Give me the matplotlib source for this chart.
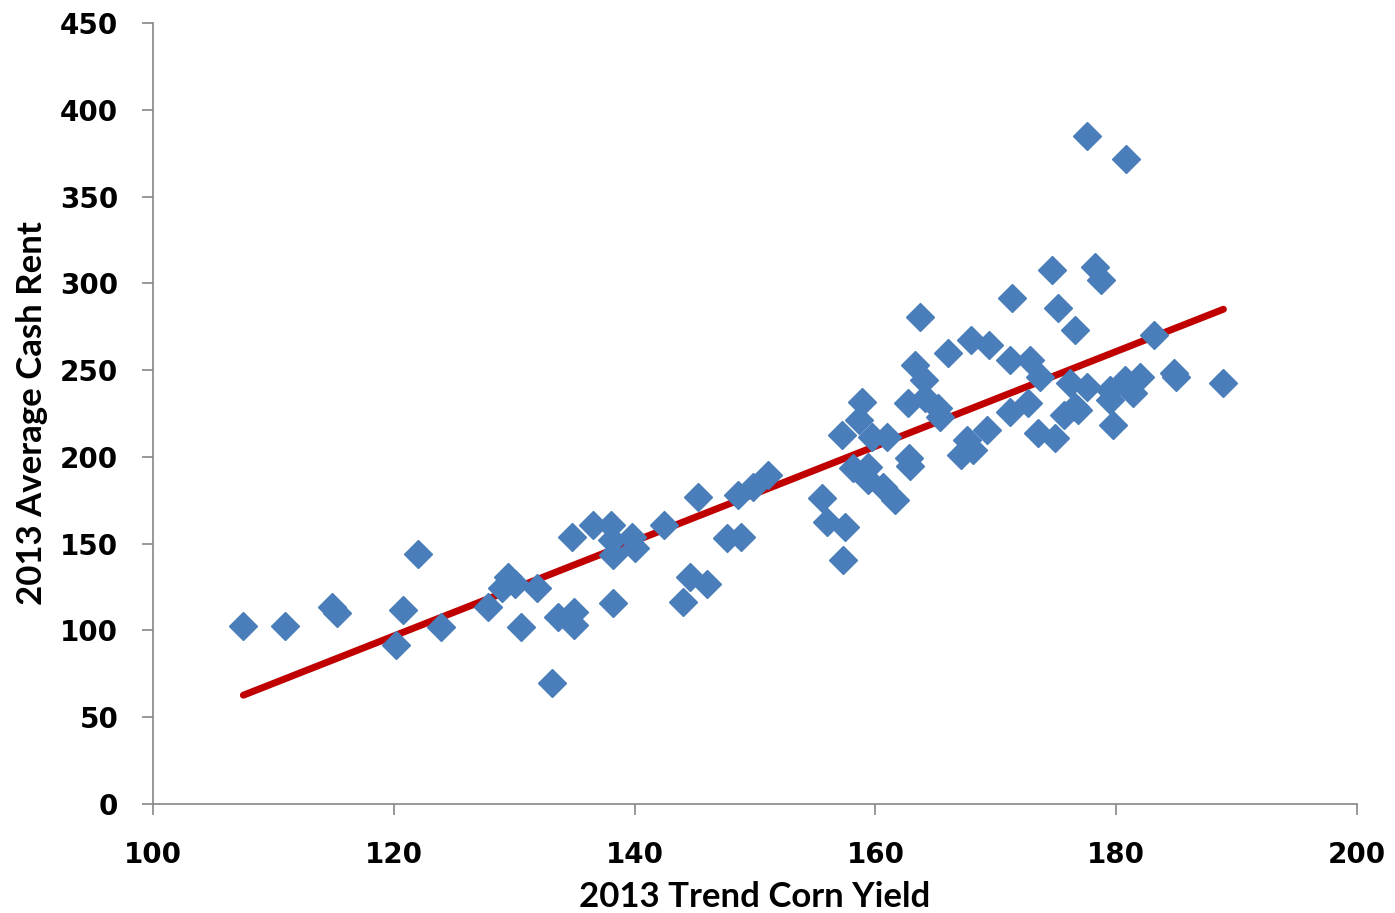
import numpy as np
import matplotlib.pyplot as plt

# trend corn yield (bu/acre) vs average cash rent ($/acre), 2013
yield_x = [107.5, 111.0, 114.9, 115.3, 122.0, 120.2, 120.8, 123.9, 127.8,
           129.5, 129.0, 130.1, 131.9, 130.6, 133.1, 133.6, 135.0, 135.0,
           138.2, 134.8, 136.5, 138.0, 138.1, 138.2, 139.8, 140.0, 142.4,
           145.3, 144.6, 146.0, 144.0, 147.7, 148.8, 148.6, 149.8, 151.1,
           155.6, 156.0, 157.5, 157.3, 158.9, 158.6, 157.2, 159.7, 161.0,
           158.1, 159.4, 159.4, 160.6, 161.6, 162.8, 162.9, 163.7, 163.3,
           164.0, 162.7, 164.1, 165.2, 165.4, 166.0, 167.9, 169.4, 171.2,
           172.8, 173.7, 171.3, 175.2, 174.7, 176.6, 167.6, 167.1, 168.1,
           169.3, 171.2, 172.7, 173.5, 174.9, 175.7, 176.6, 177.6, 180.8,
           178.2, 178.7, 183.1, 176.2, 177.6, 179.5, 180.7, 182.0, 185.0,
           184.8, 188.9, 176.8, 179.5, 181.4, 179.7]
rent_y = [102.6, 102.6, 113.5, 110.0, 144.0, 91.6, 111.8, 102.0, 113.5,
          130.8, 124.5, 127.0, 124.5, 102.0, 69.7, 107.7, 110.6, 103.0,
          115.8, 153.8, 160.7, 160.7, 152.0, 143.5, 153.8, 147.5, 160.7,
          176.9, 130.8, 127.0, 116.4, 153.3, 153.8, 178.0, 182.6, 189.6,
          176.3, 162.5, 159.6, 140.6, 231.6, 221.0, 212.6, 211.5, 211.5,
          193.6, 194.2, 186.7, 182.6, 175.2, 199.4, 194.7, 280.6, 253.0,
          244.3, 231.0, 234.0, 228.0, 223.0, 259.9, 267.3, 264.5, 255.8,
          255.8, 246.0, 291.5, 285.8, 307.7, 273.0, 209.7, 201.0, 204.0,
          215.5, 225.9, 231.0, 213.8, 210.9, 224.0, 228.7, 384.9, 371.6,
          309.4, 302.0, 270.2, 242.6, 240.3, 238.5, 244.3, 246.0, 246.0,
          248.5, 242.6, 227.0, 232.8, 236.8, 218.4]

x_ticks = [100, 120, 140, 160, 180, 200]
y_ticks = [0, 50, 100, 150, 200, 250, 300, 350, 400, 450]

x = np.array(yield_x)
y = np.array(rent_y)
slope, intercept = np.polyfit(x, y, 1)
line_x = np.array([x.min(), x.max()])
line_y = slope * line_x + intercept

fig = plt.figure(figsize=(13.95, 9.13), dpi=100)
ax = fig.add_axes([0.1097, 0.1194, 0.8631, 0.8554])

ax.plot(x, y, linestyle="none", marker="D", markersize=14.5,
        color="#4A7EBB", markeredgecolor="#4A7EBB", zorder=3)
ax.plot(line_x, line_y, color="#C00000", linewidth=5, solid_capstyle="round", zorder=2)

ax.set_xlim(100, 200)
ax.set_ylim(0, 450)
ax.set_xticks(x_ticks)
ax.set_yticks(y_ticks)

for s in ["top", "right"]:
    ax.spines[s].set_visible(False)
for s in ["left", "bottom"]:
    ax.spines[s].set_color("#868686")
    ax.spines[s].set_linewidth(1.2)
ax.tick_params(direction="out", length=8, width=1.2, color="#868686",
               labelsize=20)
ax.tick_params(axis="y", pad=17)
ax.tick_params(axis="x", pad=19)
for lab in ax.get_xticklabels() + ax.get_yticklabels():
    lab.set_fontweight("bold")

lab_font = dict(family=["Lato", "DejaVu Sans"], weight="bold", size=25)
ax.set_xlabel("2013 Trend Corn Yield", labelpad=8, **lab_font)
ax.set_ylabel("2013 Average Cash Rent", labelpad=9, **lab_font)

fig.savefig("out.png", dpi=100)
